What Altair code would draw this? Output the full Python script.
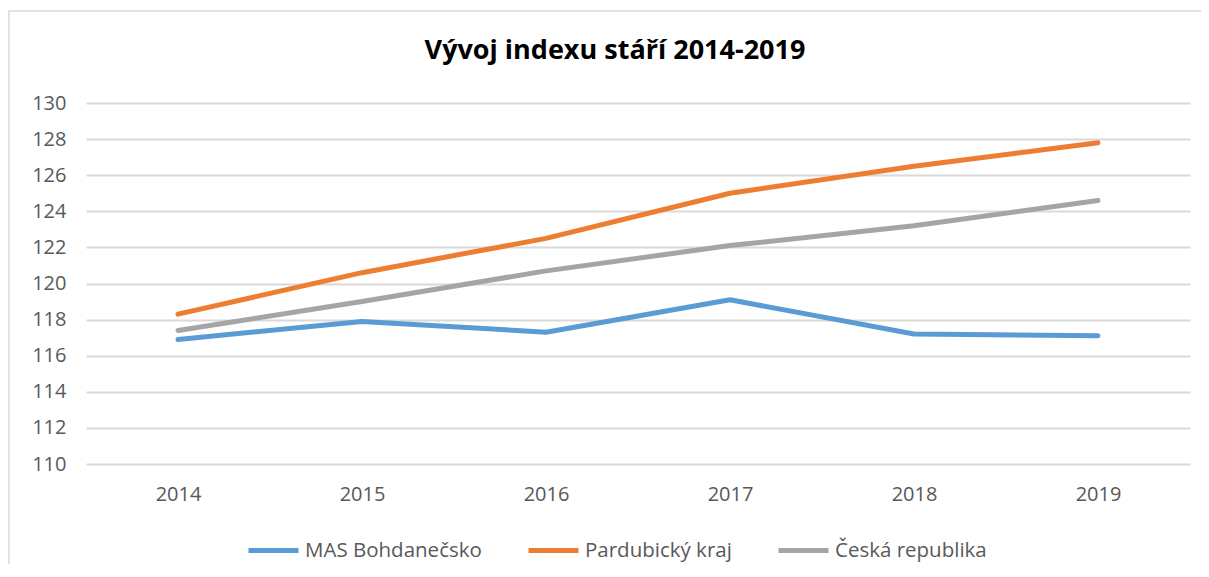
import altair as alt
import pandas as pd

years = ["2014", "2015", "2016", "2017", "2018", "2019"]
mas = [116.9, 117.9, 117.3, 119.1, 117.2, 117.1]
pardubicky = [118.3, 120.6, 122.5, 125.0, 126.5, 127.8]
cr = [117.4, 119.0, 120.7, 122.1, 123.2, 124.6]
series_names = ["MAS Bohdanečsko", "Pardubický kraj", "Česká republika"]
colors = ["#5B9BD5", "#ED7D31", "#A5A5A5"]
y_ticks = list(range(110, 131, 2))

rows = []
for name, vals in zip(series_names, [mas, pardubicky, cr]):
    for yr, v in zip(years, vals):
        rows.append({"Rok": yr, "Hodnota": v, "Řada": name})
df = pd.DataFrame(rows)

FONT = "Open Sans"
W, H = 1104, 361

lines = alt.Chart(df).mark_line(strokeWidth=5, strokeCap="round", strokeJoin="round").encode(
    x=alt.X("Rok:O", sort=years, scale=alt.Scale(padding=0.5),
            axis=alt.Axis(title=None, labelAngle=0, ticks=False, domain=False, grid=False,
                          labelPadding=20, labelFontSize=20, labelColor="#595959", labelFont=FONT)),
    y=alt.Y("Hodnota:Q", scale=alt.Scale(domain=[110, 130], nice=False, zero=False),
            axis=alt.Axis(title=None, values=y_ticks, ticks=False, domain=False,
                          gridColor="#D9D9D9", gridWidth=2, labelPadding=20,
                          labelFontSize=20, labelColor="#595959", labelFont=FONT)),
    color=alt.Color("Řada:N", sort=series_names,
                    scale=alt.Scale(domain=series_names, range=colors),
                    legend=alt.Legend(title=None, orient="none", direction="horizontal",
                                      legendX=160, legendY=420,
                                      symbolType="stroke", symbolSize=2500,
                                      symbolStrokeWidth=5, labelFontSize=20.5,
                                      labelColor="#595959", labelFont=FONT, labelLimit=400,
                                      labelOffset=4, columnPadding=36)),
)

frame = alt.Chart(pd.DataFrame({"a": [0]})).mark_rect(
    fill=None, stroke="#D9D9D9", strokeWidth=1.5
).encode(x=alt.value(-77), x2=alt.value(W + 30), y=alt.value(-92), y2=alt.value(H + 120))

chart = alt.layer(frame, lines).properties(
    width=W, height=H,
    title=alt.TitleParams("Vývoj indexu stáří 2014-2019", fontSize=27, font=FONT,
                          fontWeight="bold", color="#000000", anchor="middle",
                          frame="group", offset=37, dx=-23, dy=92),
    autosize=alt.AutoSizeParams(type="none"),
    padding={"left": 78, "top": 95, "right": 11, "bottom": 100},
).configure_view(stroke=None)

chart.save("out.html", embed_options={"renderer": "svg", "actions": False})
